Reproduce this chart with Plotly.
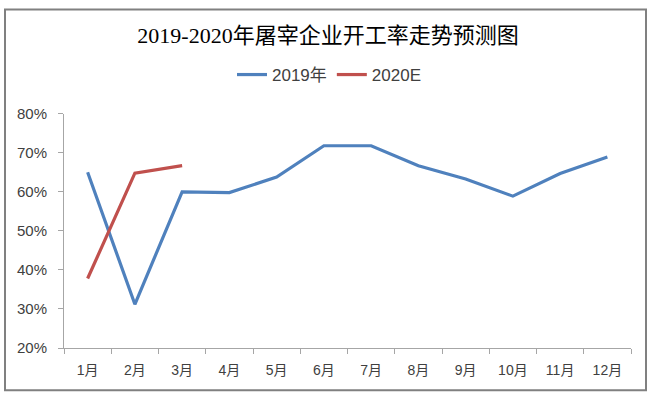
import plotly.graph_objects as go

months = ["1月", "2月", "3月", "4月", "5月", "6月", "7月", "8月", "9月", "10月", "11月", "12月"]
rate_2019 = [0.65, 0.312, 0.60, 0.598, 0.638, 0.718, 0.718, 0.667, 0.633, 0.589, 0.647, 0.689]
months_2020 = ["1月", "2月", "3月"]
rate_2020 = [0.378, 0.648, 0.667]

fig = go.Figure()
fig.add_trace(go.Scatter(x=months, y=rate_2019, mode="lines", name="2019年",
                         line=dict(color="#4F81BD", width=3.2)))
fig.add_trace(go.Scatter(x=months_2020, y=rate_2020, mode="lines", name="2020E",
                         line=dict(color="#C0504D", width=3.2)))

W, H = 655, 397
L, R, T, B = 64, 24, 110, 49
pw, ph = W - L - R, H - T - B

def px(xp):
    return (xp - L) / pw

def py(yp):
    return (H - B - yp) / ph

fig.update_layout(
    width=W, height=H,
    margin=dict(l=L, r=R, t=T, b=B),
    paper_bgcolor="white", plot_bgcolor="white",
    title=dict(text="2019-2020年屠宰企业开工率走势预测图",
               x=328 / W, xanchor="center", y=1 - 35 / H, yanchor="middle",
               font=dict(family="Liberation Serif, Noto Sans CJK SC", size=22, color="#000000")),
    legend=dict(orientation="h", xref="container", x=329 / W, xanchor="center",
                yref="container", y=1 - 75 / H, yanchor="middle",
                font=dict(family="Liberation Sans, Noto Sans CJK SC", size=17, color="#404040"),
                bgcolor="rgba(0,0,0,0)"),
    xaxis=dict(type="category", range=[-0.5, 11.5], showline=True, linecolor="#A6A6A6", linewidth=1,
               ticks="outside", tickson="boundaries", ticklen=5, tickcolor="#A6A6A6",
               ticklabelstandoff=9,
               showgrid=False, zeroline=False,
               tickfont=dict(family="Liberation Sans, Noto Sans CJK SC", size=14, color="#404040")),
    yaxis=dict(range=[0.2, 0.8], dtick=0.1, tickformat=".0%", showline=True,
               linecolor="#A6A6A6", linewidth=1, ticks="outside", ticklen=5, tickcolor="#A6A6A6",
               ticklabelstandoff=8,
               showgrid=False, zeroline=False,
               tickfont=dict(family="Liberation Sans, Noto Sans CJK SC", size=15, color="#404040")),
    shapes=[dict(type="rect", xref="paper", yref="paper",
                 x0=px(5), x1=px(646), y0=py(391), y1=py(4),
                 line=dict(color="#808080", width=2), fillcolor="rgba(0,0,0,0)", layer="below")],
    showlegend=True,
)

fig.write_html("out.html", config={"displayModeBar": False},
               post_script="document.body.style.margin='0';")
